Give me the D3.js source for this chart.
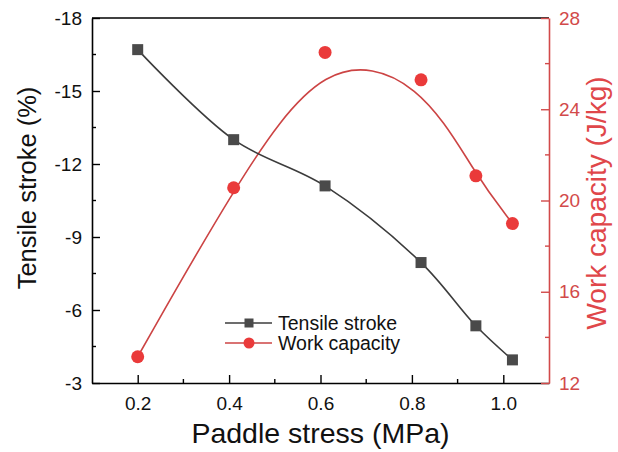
<!DOCTYPE html>
<html>
<head>
<meta charset="utf-8">
<script src="https://cdn.jsdelivr.net/npm/d3@7"></script>
<style>
  html, body { margin: 0; padding: 0; background: #fff; }
  svg { display: block; font-family: Arial, "Liberation Sans", sans-serif; }
</style>
</head>
<body>
<svg id="chart" width="618" height="452"></svg>
<script>
// Paddle stress (MPa) at each measurement
const stress = [0.2, 0.41, 0.61, 0.82, 0.94, 1.02];
// Tensile stroke (%) — left axis (inverted)
const tensileStroke = [-16.7, -13.0, -11.1, -7.95, -5.35, -3.95];
// Work capacity (J/kg) — right axis
const workCapacity = [13.15, 20.56, 26.49, 25.29, 21.08, 18.99];

const xTicks = [0.2, 0.4, 0.6, 0.8, 1.0];
const leftTicks = [-18, -15, -12, -9, -6, -3];
const rightTicks = [12, 16, 20, 24, 28];

const seriesNames = ["Tensile stroke", "Work capacity"];

const svg = d3.select("#chart");
const m = { left: 92, right: 549, top: 18, bottom: 383 };

const x = d3.scaleLinear().domain([0.1, 1.1]).range([m.left, m.right]);
const yL = d3.scaleLinear().domain([-18, -3]).range([m.top, m.bottom]);
const yR = d3.scaleLinear().domain([12, 28]).range([m.bottom, m.top]);

const dark = "#3c3c3c";
const markDark = "#4a4a4a";
const redLine = "#cc4444";
const redMark = "#ea3a3a";
const redAxis = "#d24a4a";
const FONT = "Arial, 'Liberation Sans', sans-serif";
const tickFont = 19;

// frame: top edge
svg.append("line")
  .attr("x1", m.left).attr("x2", m.right)
  .attr("y1", m.top).attr("y2", m.top)
  .attr("stroke", "#000").attr("stroke-width", 1.6);

// bottom axis
const xAxis = d3.axisBottom(x).tickValues(xTicks).tickFormat(d => d.toFixed(1))
  .tickSizeInner(-8).tickSizeOuter(0).tickPadding(14);
const gx = svg.append("g").attr("transform", `translate(0,${m.bottom})`).call(xAxis);
gx.select(".domain").attr("stroke", "#000").attr("stroke-width", 1.6);
gx.selectAll(".tick line").attr("stroke", "#000").attr("stroke-width", 1.4);
gx.selectAll(".tick text").attr("font-size", tickFont).attr("fill", "#111")
  .attr("font-family", FONT);
// minor ticks on x
const xMinor = d3.range(0.3, 1.1, 0.2);
svg.append("g").selectAll("line").data(xMinor).join("line")
  .attr("x1", d => x(d)).attr("x2", d => x(d))
  .attr("y1", m.bottom).attr("y2", m.bottom - 4)
  .attr("stroke", "#000").attr("stroke-width", 1.4);

// left axis (plain hyphen for negative labels)
const leftAxis = d3.axisLeft(yL).tickValues(leftTicks).tickFormat(d => String(d))
  .tickSizeInner(-8).tickSizeOuter(0).tickPadding(10);
const gl = svg.append("g").attr("transform", `translate(${m.left},0)`).call(leftAxis);
gl.select(".domain").attr("stroke", "#000").attr("stroke-width", 1.6);
gl.selectAll(".tick line").attr("stroke", "#000").attr("stroke-width", 1.4);
gl.selectAll(".tick text").attr("font-size", tickFont).attr("fill", "#111")
  .attr("font-family", FONT);
const lMinor = d3.range(-16.5, -3, 3);
svg.append("g").selectAll("line").data(lMinor).join("line")
  .attr("x1", m.left).attr("x2", m.left + 4)
  .attr("y1", d => yL(d)).attr("y2", d => yL(d))
  .attr("stroke", "#000").attr("stroke-width", 1.4);

// right axis
const rightAxis = d3.axisRight(yR).tickValues(rightTicks).tickFormat(d => String(d))
  .tickSizeInner(-8).tickSizeOuter(0).tickPadding(10);
const gr = svg.append("g").attr("transform", `translate(${m.right},0)`).call(rightAxis);
gr.select(".domain").attr("stroke", redAxis).attr("stroke-width", 1.6);
gr.selectAll(".tick line").attr("stroke", redAxis).attr("stroke-width", 1.4);
gr.selectAll(".tick text").attr("font-size", tickFont).attr("fill", redAxis)
  .attr("font-family", FONT);
const rMinor = d3.range(14, 28, 4);
svg.append("g").selectAll("line").data(rMinor).join("line")
  .attr("x1", m.right).attr("x2", m.right - 4)
  .attr("y1", d => yR(d)).attr("y2", d => yR(d))
  .attr("stroke", redAxis).attr("stroke-width", 1.4);

// axis titles
svg.append("text")
  .attr("x", (m.left + m.right) / 2).attr("y", 442.5)
  .attr("text-anchor", "middle").attr("font-size", 28.5).attr("fill", "#111")
  .text("Paddle stress (MPa)");
svg.append("text")
  .attr("transform", `translate(36,188) rotate(-90)`)
  .attr("text-anchor", "middle").attr("font-size", 25.5).attr("fill", "#111")
  .text("Tensile stroke (%)");
svg.append("text")
  .attr("transform", `translate(606,203) rotate(-90)`)
  .attr("text-anchor", "middle").attr("font-size", 28).attr("fill", "#e0474a")
  .text("Work capacity (J/kg)");

// data series
const tsData = stress.map((s, i) => [s, tensileStroke[i]]);
const wcData = stress.map((s, i) => [s, workCapacity[i]]);

const tsLine = d3.line().x(d => x(d[0])).y(d => yL(d[1])).curve(d3.curveCatmullRom.alpha(0.5));
const wcLine = d3.line().x(d => x(d[0])).y(d => yR(d[1])).curve(d3.curveBasis);

svg.append("path").datum(wcData).attr("d", wcLine)
  .attr("fill", "none").attr("stroke", redLine).attr("stroke-width", 1.6);
svg.append("path").datum(tsData).attr("d", tsLine)
  .attr("fill", "none").attr("stroke", dark).attr("stroke-width", 1.6);

const sq = 11;
svg.append("g").selectAll("rect").data(tsData).join("rect")
  .attr("x", d => x(d[0]) - sq / 2).attr("y", d => yL(d[1]) - sq / 2)
  .attr("width", sq).attr("height", sq).attr("fill", markDark);
svg.append("g").selectAll("circle").data(wcData).join("circle")
  .attr("cx", d => x(d[0])).attr("cy", d => yR(d[1])).attr("r", 6.5)
  .attr("fill", redMark);

// legend
const lg = svg.append("g");
const rows = [
  { name: seriesNames[0], color: dark, mark: markDark, shape: "square", y: 323 },
  { name: seriesNames[1], color: redLine, mark: redMark, shape: "circle", y: 343 }
];
rows.forEach(r => {
  lg.append("line").attr("x1", 225).attr("x2", 272).attr("y1", r.y).attr("y2", r.y)
    .attr("stroke", r.color).attr("stroke-width", 1.6);
  if (r.shape === "square") {
    lg.append("rect").attr("x", 249 - 4.5).attr("y", r.y - 4.5)
      .attr("width", 9).attr("height", 9).attr("fill", r.mark);
  } else {
    lg.append("circle").attr("cx", 249).attr("cy", r.y).attr("r", 5.5).attr("fill", r.mark);
  }
  lg.append("text").attr("x", 278).attr("y", r.y + 7)
    .attr("font-size", 19.5).attr("fill", "#111").text(r.name);
});
</script>
</body>
</html>
